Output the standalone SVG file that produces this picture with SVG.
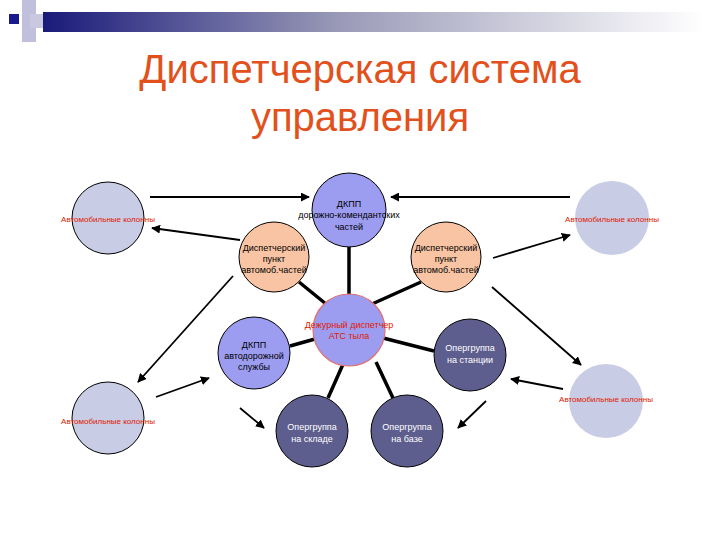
<svg xmlns="http://www.w3.org/2000/svg" width="720" height="540" viewBox="0 0 720 540">
<defs>
<linearGradient id="bar" x1="0" x2="1" y1="0" y2="0"><stop offset="0" stop-color="#1a1a7a"/><stop offset="0.45" stop-color="#9a9ab8"/><stop offset="1" stop-color="#ffffff"/></linearGradient>
<marker id="ah" viewBox="0 0 10 10" refX="9" refY="5" markerWidth="5" markerHeight="5" orient="auto"><path d="M0,0L10,5L0,10z" fill="#000"/></marker>
<style>
.t{font-family:"Liberation Sans",Arial,sans-serif;text-anchor:middle}
.title{font-size:40px;fill:#e2501c}
.red{font-size:8px;fill:#e02000}
.blk{font-size:9px;fill:#000}
.wht{font-size:9px;fill:#fff}
.auto{fill:#c8cce4}
.blue{fill:#9c9cf0;stroke:#000}
.peach{fill:#f8c4a4;stroke:#000}
.dark{fill:#5e5e8e;stroke:#000}
.thick{stroke:#000;stroke-width:3.5}
.arr{stroke:#000;stroke-width:1.8;marker-end:url(#ah)}
</style>
</defs>
<rect width="720" height="540" fill="#fff"/>
<rect x="22" y="0" width="14" height="42" fill="#c0c0dc"/>
<rect x="30" y="14" width="20" height="14" fill="#c8c8e0"/>
<rect x="43" y="12" width="660" height="20" fill="url(#bar)"/>
<rect x="9" y="14" width="10" height="10" fill="#1a1a8a"/>
<text class="t title" x="360" y="83">Диспетчерская система</text>
<text class="t title" x="360" y="131">управления</text>
<g id="connectors">
<line class="thick" x1="349" y1="246" x2="349" y2="295"/>
<line class="thick" x1="299" y1="282" x2="326" y2="304"/>
<line class="thick" x1="421" y1="282" x2="372" y2="304"/>
<line class="thick" x1="290" y1="346" x2="315" y2="339"/>
<line class="thick" x1="434" y1="351" x2="383" y2="338"/>
<line class="thick" x1="328" y1="398" x2="344" y2="362"/>
<line class="thick" x1="393" y1="398" x2="376" y2="362"/>
<line class="arr" x1="150" y1="197" x2="309" y2="197"/>
<line class="arr" x1="570" y1="197" x2="391" y2="197"/>
<line class="arr" x1="240" y1="240" x2="152" y2="228"/>
<line class="arr" x1="233" y1="276" x2="138" y2="382"/>
<line class="arr" x1="156" y1="397" x2="209" y2="378"/>
<line class="arr" x1="240" y1="408" x2="264" y2="428"/>
<line class="arr" x1="493" y1="258" x2="570" y2="235"/>
<line class="arr" x1="492" y1="287" x2="581" y2="365"/>
<line class="arr" x1="563" y1="389" x2="511" y2="379"/>
<line class="arr" x1="486" y1="401" x2="458" y2="428"/>
</g>
<g id="auto-tl"><circle class="auto" cx="108" cy="218" r="36" stroke="#000"/><text class="t red" x="108" y="222">Автомобильные колонны</text></g>
<g id="auto-bl"><circle class="auto" cx="108" cy="418" r="36" stroke="#000"/><text class="t red" x="108" y="424">Автомобильные колонны</text></g>
<g id="auto-tr"><circle class="auto" cx="612" cy="218" r="37"/><text class="t red" x="612" y="222">Автомобильные колонны</text></g>
<g id="auto-br"><circle class="auto" cx="606" cy="401" r="37"/><text class="t red" x="606" y="402">Автомобильные колонны</text></g>
<g id="dkpp-top"><circle class="blue" cx="349" cy="210" r="37"/><text class="t blk" x="349" y="207">ДКПП</text><text class="t blk" x="349" y="218">дорожно-комендантских</text><text class="t blk" x="349" y="230">частей</text></g>
<g id="disp-left"><circle class="peach" cx="274" cy="257" r="35"/><text class="t blk" x="274" y="251">Диспетчерский</text><text class="t blk" x="274" y="262">пункт</text><text class="t blk" x="274" y="273">автомоб.частей</text></g>
<g id="disp-right"><circle class="peach" cx="446" cy="257" r="35"/><text class="t blk" x="446" y="251">Диспетчерский</text><text class="t blk" x="446" y="262">пункт</text><text class="t blk" x="446" y="273">автомоб.частей</text></g>
<g id="center"><circle cx="349" cy="330" r="36" fill="#9c9cf0" stroke="#e07070" stroke-width="1.2"/><text class="t red" x="349" y="328" style="font-size:9px">Дежурный диспетчер</text><text class="t red" x="349" y="339" style="font-size:9px">АТС тыла</text></g>
<g id="dkpp-auto"><circle class="blue" cx="254" cy="353" r="36"/><text class="t blk" x="254" y="348">ДКПП</text><text class="t blk" x="254" y="359">автодорожной</text><text class="t blk" x="254" y="370">службы</text></g>
<g id="op-station"><circle class="dark" cx="470" cy="355" r="36"/><text class="t wht" x="470" y="351">Опергруппа</text><text class="t wht" x="470" y="363">на станции</text></g>
<g id="op-sklad"><circle class="dark" cx="312" cy="431" r="36"/><text class="t wht" x="312" y="430">Опергруппа</text><text class="t wht" x="312" y="442">на складе</text></g>
<g id="op-baza"><circle class="dark" cx="407" cy="431" r="36"/><text class="t wht" x="407" y="430">Опергруппа</text><text class="t wht" x="407" y="442">на базе</text></g>
</svg>
